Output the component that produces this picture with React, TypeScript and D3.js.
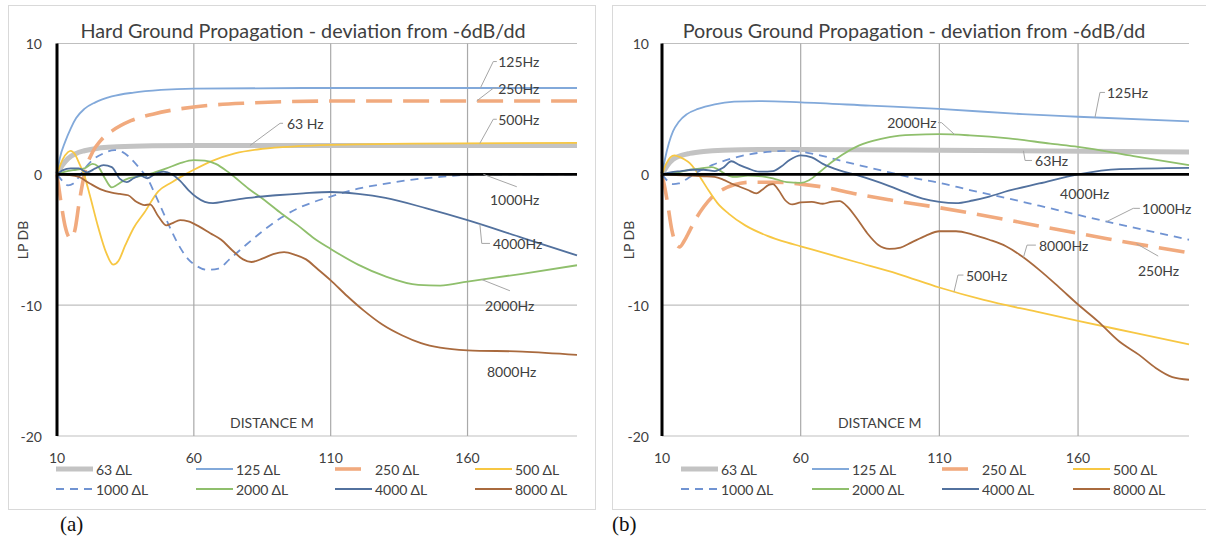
import React from 'react';
import * as d3 from 'd3';

type Pt = [number, number];

// Axis ticks
const distanceTicks = [10, 60, 110, 160];
const levelTicks = [10, 0, -10, -20];
const gridLevels = [10, -10, -20];

// Octave bands and legend names
const bands = ['63', '125', '250', '500', '1000', '2000', '4000', '8000'];
const legendNames = bands.map((b) => `${b} ΔL`);

// Hard ground: [distance m, deviation dB]
const hard63: Pt[] = [[10, 0], [12, 0.7], [14, 1.2], [17, 1.6], [20, 1.8], [25, 2.0], [32, 2.1], [45, 2.18], [60, 2.2], [120, 2.2], [200, 2.2]];
const hard125: Pt[] = [[10, 0], [11, 1.2], [13, 2.5], [15, 3.5], [17, 4.3], [20, 5.0], [24, 5.5], [30, 5.95], [38, 6.25], [48, 6.45], [60, 6.55], [100, 6.6], [200, 6.6]];
const hard250: Pt[] = [[10, 0], [11.5, -2.2], [13, -4.0], [15, -4.9], [16.5, -4.3], [18, -2.3], [20, 0], [23, 1.7], [26, 2.6], [30, 3.3], [37, 4.1], [45, 4.6], [60, 5.15], [80, 5.45], [110, 5.6], [200, 5.6]];
const hard500: Pt[] = [[10, 0], [12, 1.1], [14, 1.7], [15, 1.8], [16.5, 1.55], [18, 0.9], [20, -0.1], [22, -1.6], [25, -4.0], [28, -6.0], [30.5, -6.9], [32.5, -6.6], [35, -5.4], [38, -4.1], [42, -2.9], [47, -1.3], [52, -0.6], [56, -0.1], [60, 0.35], [67, 1.05], [75, 1.6], [85, 1.95], [98, 2.15], [110, 2.25], [140, 2.35], [200, 2.4]];
const hard1000: Pt[] = [[10, 0], [12, -0.5], [14, -0.85], [16, -0.7], [18, -0.2], [20, 0.4], [23, 1.1], [27, 1.6], [31, 1.85], [34, 1.7], [37, 1.2], [40, 0.5], [43, -0.3], [46, -1.6], [49, -3.0], [52, -4.4], [55, -5.6], [58, -6.5], [61, -7.0], [65, -7.3], [69, -7.2], [73, -6.5], [79, -5.4], [86, -4.2], [92, -3.3], [98, -2.6], [104, -2.1], [110, -1.7], [120, -1.1], [129, -0.75], [140, -0.4], [150, -0.2], [163, 0], [200, 0]];
const hard2000: Pt[] = [[10, 0], [13, 0.2], [17, 0.35], [20, 0.45], [23, 0.8], [25, 0.6], [27.5, -0.3], [30, -1.0], [32, -0.8], [35, -0.4], [40, -0.15], [45, 0.1], [50, 0.45], [55, 0.85], [60, 1.08], [64, 1.05], [68, 0.8], [73, 0.1], [80, -1.1], [86, -2.0], [92, -3.0], [98, -3.9], [104, -4.9], [110, -5.7], [120, -6.9], [130, -7.8], [142, -8.45], [150, -8.5], [160, -8.2], [180, -7.6], [200, -6.95]];
const hard4000: Pt[] = [[10, 0], [12, 0.3], [15, 0.45], [18, 0.45], [21, 0.15], [24, 0.45], [27, 0.7], [30, 0.55], [33, -0.35], [35.5, -0.6], [38, -0.3], [40.5, -0.1], [43, -0.3], [46, 0.05], [49, 0.2], [52, 0], [55, -0.5], [58, -1.2], [61, -1.75], [64, -2.1], [67, -2.2], [72, -2.05], [80, -1.8], [90, -1.6], [100, -1.45], [110, -1.35], [120, -1.5], [130, -1.8], [145, -2.6], [160, -3.5], [180, -4.85], [200, -6.2]];
const hard8000: Pt[] = [[10, 0], [14, -0.05], [18, -0.2], [22, -0.7], [26, -1.15], [30, -1.4], [33, -1.5], [36, -1.6], [39, -2.1], [42, -2.35], [44, -2.3], [47, -3.2], [50, -3.9], [52, -3.75], [55, -3.5], [58, -3.6], [62, -4.0], [66, -4.5], [70, -5.0], [74, -5.8], [78, -6.5], [81, -6.7], [85, -6.45], [89, -6.1], [93, -5.95], [97, -6.15], [101, -6.5], [105, -7.2], [110, -8.1], [116, -9.3], [122, -10.4], [129, -11.5], [136, -12.3], [143, -12.9], [150, -13.25], [160, -13.45], [180, -13.55], [200, -13.8]];

// Porous ground: [distance m, deviation dB]
const por63: Pt[] = [[10, 0], [12, 0.7], [14, 1.15], [17, 1.45], [20, 1.6], [25, 1.75], [32, 1.85], [45, 1.9], [60, 1.9], [110, 1.85], [200, 1.7]];
const por125: Pt[] = [[10, 0], [11, 1.1], [12.5, 2.4], [14, 3.3], [16, 4.0], [19, 4.6], [23, 5.0], [29, 5.35], [36, 5.55], [45, 5.6], [60, 5.5], [85, 5.25], [110, 5.0], [140, 4.6], [160, 4.4], [200, 4.05]];
const por250: Pt[] = [[10, 0], [11, -1.0], [12, -2.2], [13.5, -4.2], [15, -5.3], [16.3, -5.55], [18, -5.1], [20, -4.3], [22.5, -3.3], [25, -2.5], [28, -1.75], [32, -1.15], [36, -0.8], [42, -0.6], [50, -0.6], [60, -0.75], [68, -0.97], [80, -1.5], [92, -1.95], [110, -2.55], [135, -3.5], [146, -3.95], [170, -4.9], [200, -6.0]];
const por500: Pt[] = [[10, 0], [11.5, 0.8], [13, 1.3], [14.5, 1.45], [16, 1.35], [18, 1.15], [20, 0.85], [22, 0.35], [24, -0.3], [27, -1.3], [30, -2.2], [34, -3.0], [40, -3.9], [48, -4.7], [55, -5.2], [60, -5.5], [70, -6.1], [80, -6.7], [95, -7.6], [110, -8.65], [126, -9.6], [145, -10.5], [160, -11.2], [180, -12.1], [200, -13.0]];
const por1000: Pt[] = [[10, 0], [12, -0.5], [14, -0.75], [16, -0.7], [19, -0.35], [23, 0.2], [28, 0.7], [35, 1.2], [42, 1.55], [50, 1.75], [55, 1.8], [60, 1.72], [67, 1.45], [74, 1.07], [82, 0.65], [92, 0.15], [100, -0.25], [110, -0.65], [121, -1.2], [135, -1.85], [146, -2.4], [160, -3.1], [170, -3.6], [185, -4.3], [200, -5.0]];
const por2000: Pt[] = [[10, 0], [13, 0.1], [17, 0.2], [20, 0.35], [24, 0.45], [28, 0.55], [30, 0.4], [33, 0], [36, -0.2], [41, -0.1], [46, -0.15], [50, -0.3], [55, -0.6], [60, -0.65], [63, -0.45], [67, 0.2], [71, 0.9], [75, 1.5], [80, 2.1], [86, 2.55], [92, 2.85], [100, 3.02], [110, 3.07], [121, 2.98], [135, 2.75], [150, 2.35], [160, 2.1], [180, 1.4], [200, 0.7]];
const por4000: Pt[] = [[10, 0], [13, 0.15], [17, 0.25], [21, 0.35], [25, 0.35], [29, 0.25], [32, 0.5], [35, 1.0], [38, 0.7], [41, 0.45], [45, 0.2], [50, 0.25], [53, 0.6], [56, 1.1], [60, 1.45], [64, 1.3], [68, 0.8], [74, 0.3], [80, -0.05], [86, -0.45], [92, -0.9], [98, -1.4], [104, -1.85], [110, -2.1], [116, -2.2], [122, -2.0], [128, -1.7], [135, -1.25], [146, -0.7], [160, 0], [175, 0.4], [200, 0.5]];
const por8000: Pt[] = [[10, 0], [15, -0.05], [20, -0.1], [25, -0.15], [29, -0.2], [32, -0.4], [35, -0.7], [38, -0.95], [41, -1.2], [44, -1.45], [46, -1.2], [48.5, -0.8], [50, -0.75], [52, -1.2], [54.5, -2.0], [57, -2.3], [60, -2.15], [64, -2.1], [68, -2.25], [71, -2.1], [74, -2.05], [77, -2.5], [80, -3.3], [84, -4.5], [88, -5.4], [92, -5.7], [96, -5.6], [100, -5.2], [105, -4.7], [110, -4.35], [116, -4.35], [122, -4.6], [128, -5.0], [134, -5.5], [140, -6.3], [146, -7.3], [153, -8.6], [160, -9.95], [167, -11.2], [175, -12.8], [182, -13.8], [188, -14.8], [194, -15.5], [200, -15.7]];

const hardSeries = [hard63, hard125, hard250, hard500, hard1000, hard2000, hard4000, hard8000];
const porousSeries = [por63, por125, por250, por500, por1000, por2000, por4000, por8000];

interface LineStyle { color: string; width: number; dash?: string }
const lineStyles: LineStyle[] = [
  { color: '#C3C3C3', width: 5 },
  { color: '#82A9DA', width: 1.8 },
  { color: '#F1AA7E', width: 3.6, dash: '26 11' },
  { color: '#F7C743', width: 1.8 },
  { color: '#7093D2', width: 1.8, dash: '8 6' },
  { color: '#8FBF6C', width: 1.8 },
  { color: '#52719E', width: 1.8 },
  { color: '#A96A3E', width: 1.8 },
];

// Callouts: series index, distance where the leader meets the curve, optional knee and end, text position (data units)
interface Callout { text: string; series?: number; at?: number; knee?: Pt; end?: Pt; pos: Pt; align?: 'start' | 'end' }

const hardCallouts: Callout[] = [
  { text: '125Hz', series: 1, at: 164.7, knee: [169.4, 8.62], end: [170.7, 8.62], pos: [171.2, 8.62] },
  { text: '250Hz', series: 2, at: 163.3, knee: [169.4, 6.58], end: [170.7, 6.58], pos: [171.2, 6.58] },
  { text: '500Hz', series: 3, at: 164.5, knee: [169.4, 4.21], end: [170.7, 4.21], pos: [171.2, 4.21] },
  { text: '1000Hz', series: 4, at: 165.8, end: [178, -0.95], pos: [168.2, -1.96] },
  { text: '4000Hz', series: 6, at: 164.5, knee: [165.2, -5.28], end: [168.2, -5.28], pos: [169.3, -5.3] },
  { text: '2000Hz', series: 5, at: 165.2, end: [175.5, -8.9], pos: [166.4, -10.0] },
  { text: '8000Hz', pos: [167.1, -15.05] },
  { text: '63 Hz', series: 0, at: 80.5, knee: [91.5, 3.9], end: [92.6, 3.9], pos: [94.0, 3.9] },
];

const porousCallouts: Callout[] = [
  { text: '125Hz', series: 1, at: 166.1, knee: [167.9, 6.26], end: [169.7, 6.26], pos: [170.4, 6.26] },
  { text: '2000Hz', series: 5, at: 115.6, knee: [110.8, 3.95], end: [109.5, 3.95], pos: [109.0, 3.95], align: 'end' },
  { text: '63Hz', series: 0, at: 140.3, knee: [140.9, 1.06], end: [143.4, 1.06], pos: [144.5, 1.06] },
  { text: '4000Hz', pos: [153.5, -1.43] },
  { text: '1000Hz', series: 4, at: 170.3, knee: [179.9, -2.6], end: [182.3, -2.6], pos: [183.1, -2.6] },
  { text: '8000Hz', series: 7, at: 140.3, knee: [141.6, -5.41], end: [144.8, -5.41], pos: [145.9, -5.41] },
  { text: '250Hz', series: 2, at: 181.1, end: [188.9, -6.25], pos: [181.6, -7.32] },
  { text: '500Hz', series: 3, at: 115.3, knee: [116.7, -7.7], end: [118.7, -7.7], pos: [119.6, -7.7] },
];

const FONT = 'Lato, "Open Sans", sans-serif';
const TEXT = '#404040';

function valueAt(pts: Pt[], d: number): number {
  const i = d3.bisector((p: Pt) => p[0]).left(pts, d);
  if (i <= 0) return pts[0][1];
  if (i >= pts.length) return pts[pts.length - 1][1];
  const [d0, v0] = pts[i - 1];
  const [d1, v1] = pts[i];
  return v0 + ((v1 - v0) * (d - d0)) / (d1 - d0);
}

interface PanelProps {
  left: number;
  right: number;
  frame: [number, number, number, number];
  title: string;
  titleX: number;
  series: Pt[][];
  callouts: Callout[];
  legendX: number[];
  tickRight: number;
  lpX: number;
  letter: string;
  letterX: number;
}

function Panel(p: PanelProps) {
  const x = d3.scaleLinear().domain([10, 200]).range([p.left, p.right]);
  const y = d3.scaleLinear().domain([10, -20]).range([43.5, 436]);
  const line = d3.line<Pt>().x((d) => x(d[0])).y((d) => y(d[1])).curve(d3.curveMonotoneX);
  const [fx, fy, fw, fh] = p.frame;
  const legendRows = [469, 489];

  return (
    <g>
      <rect x={fx + 0.5} y={fy + 0.5} width={fw} height={fh} fill="#fff" stroke="#D9D9D9" strokeWidth={1} />
      <text x={p.titleX} y={30} textAnchor="middle" dominantBaseline="central" fontFamily={FONT} fontSize={19.8} fill={TEXT}>
        {p.title}
      </text>

      {/* grid */}
      {gridLevels.map((v) => (
        <line key={`h${v}`} x1={x(10)} x2={x(200)} y1={y(v)} y2={y(v)} stroke="#BFBFBF" strokeWidth={1.2} />
      ))}
      {distanceTicks.slice(1).map((d) => (
        <line key={`v${d}`} x1={x(d)} x2={x(d)} y1={y(10)} y2={y(-20)} stroke="#A9A9A9" strokeWidth={1.2} />
      ))}

      {/* tick labels */}
      {levelTicks.map((v) => (
        <text key={`yt${v}`} x={p.tickRight} y={y(v)} textAnchor="end" dominantBaseline="central" fontFamily={FONT} fontSize={14} fill={TEXT}>
          {v}
        </text>
      ))}
      {distanceTicks.map((d) => (
        <text key={`xt${d}`} x={x(d)} y={457} textAnchor="middle" dominantBaseline="central" fontFamily={FONT} fontSize={14} fill={TEXT}>
          {d}
        </text>
      ))}
      <text x={x(88.5)} y={422} textAnchor="middle" dominantBaseline="central" fontFamily={FONT} fontSize={14} fill={TEXT}>
        DISTANCE M
      </text>
      <text transform={`translate(${p.lpX},240) rotate(-90)`} textAnchor="middle" dominantBaseline="central" fontFamily={FONT} fontSize={14} fill={TEXT}>
        LP DB
      </text>

      {/* series */}
      {p.series.map((pts, i) => {
        const s = lineStyles[i];
        return (
          <path key={`s${i}`} d={line(pts) ?? ''} fill="none" stroke={s.color} strokeWidth={s.width}
            strokeDasharray={s.dash} strokeLinejoin="round" />
        );
      })}

      {/* axes */}
      <line x1={x(10)} x2={x(200)} y1={y(0)} y2={y(0)} stroke="#000" strokeWidth={2.6} />
      <line x1={x(10)} x2={x(10)} y1={y(10)} y2={y(-20)} stroke="#000" strokeWidth={3} />

      {/* callouts */}
      {p.callouts.map((c, i) => {
        const pts: Pt[] = [];
        if (c.series !== undefined && c.at !== undefined) {
          pts.push([c.at, valueAt(p.series[c.series], c.at)]);
          if (c.knee) pts.push(c.knee);
          if (c.end) pts.push(c.end);
        }
        const path = pts.length > 1 ? d3.line<Pt>().x((d) => x(d[0])).y((d) => y(d[1]))(pts) : null;
        return (
          <g key={`c${i}`}>
            {path && <path d={path} fill="none" stroke="#A6A6A6" strokeWidth={1} />}
            <text x={x(c.pos[0])} y={y(c.pos[1])} textAnchor={c.align ?? 'start'} dominantBaseline="central"
              fontFamily={FONT} fontSize={14} fill={TEXT}>
              {c.text}
            </text>
          </g>
        );
      })}

      {/* legend */}
      {legendNames.map((name, i) => {
        const s = lineStyles[i];
        const lx = p.legendX[i % 4];
        const ly = legendRows[Math.floor(i / 4)];
        return (
          <g key={`l${i}`}>
            <line x1={lx} x2={lx + 37} y1={ly} y2={ly} stroke={s.color} strokeWidth={s.width} strokeDasharray={s.dash} />
            <text x={lx + 40} y={ly} dominantBaseline="central" fontFamily={FONT} fontSize={14} fill={TEXT}>
              {name}
            </text>
          </g>
        );
      })}

      <text x={p.letterX} y={524} dominantBaseline="central" fontFamily='"Liberation Serif", "Times New Roman", serif' fontSize={21} fill="#111">
        {p.letter}
      </text>
    </g>
  );
}

export default function App() {
  return (
    <svg width={1206} height={542} viewBox="0 0 1206 542" style={{ position: 'absolute', left: 0, top: 0, background: '#fff' }}>
      <rect width={1206} height={542} fill="#fff" />
      <Panel left={57} right={577} frame={[8, 5, 587, 504]} title="Hard Ground Propagation - deviation from -6dB/dd" titleX={303}
        series={hardSeries} callouts={hardCallouts} legendX={[56, 196, 335, 475]} tickRight={42} lpX={22} letter="(a)" letterX={60} />
      <Panel left={662} right={1189} frame={[612, 5, 620, 504]} title="Porous Ground Propagation - deviation from -6dB/dd" titleX={914}
        series={porousSeries} callouts={porousCallouts} legendX={[681, 812, 942, 1073]} tickRight={649} lpX={628} letter="(b)" letterX={612} />
    </svg>
  );
}
